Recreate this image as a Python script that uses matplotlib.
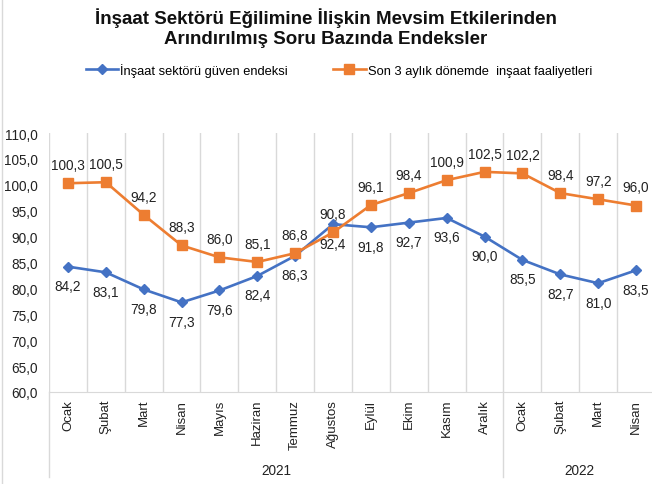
import matplotlib
matplotlib.use("Agg")
import matplotlib.pyplot as plt
from matplotlib.lines import Line2D

plt.rcParams['font.family'] = ['Liberation Sans', 'DejaVu Sans']

# data
months = ['Ocak', 'Şubat', 'Mart', 'Nisan', 'Mayıs', 'Haziran', 'Temmuz', 'Ağustos',
          'Eylül', 'Ekim', 'Kasım', 'Aralık', 'Ocak', 'Şubat', 'Mart', 'Nisan']
years = ['2021', '2022']
year_counts = [12, 4]
guven = [84.2, 83.1, 79.8, 77.3, 79.6, 82.4, 86.3, 92.4, 91.8, 92.7, 93.6, 90.0, 85.5, 82.7, 81.0, 83.5]
faaliyet = [100.3, 100.5, 94.2, 88.3, 86.0, 85.1, 86.8, 90.8, 96.1, 98.4, 100.9, 102.5, 102.2, 98.4, 97.2, 96.0]
series_names = ['İnşaat sektörü güven endeksi', 'Son 3 aylık dönemde  inşaat faaliyetleri']
yticks = [60, 65, 70, 75, 80, 85, 90, 95, 100, 105, 110]

blue = '#4472C4'
orange = '#ED7D31'
grid_c = '#D9D9D9'

W, H = 652, 485
fig = plt.figure(figsize=(W / 100, H / 100), dpi=100)
ax = fig.add_axes([49 / W, 1 - 393 / H, (655 - 49) / W, (393 - 134) / H])

x = list(range(len(months)))
ax.plot(x, guven, color=blue, lw=1.9, marker='D', ms=5.5, zorder=3)
ax.plot(x, faaliyet, color=orange, lw=1.9, marker='s', ms=7, zorder=3)

# data labels: orange above, blue below
for i in x:
    ax.annotate(f'{faaliyet[i]:.1f}'.replace('.', ','), (i, faaliyet[i]), xytext=(0, 13),
                textcoords='offset points', ha='center', va='center', fontsize=9.8, color='#222222')
    ax.annotate(f'{guven[i]:.1f}'.replace('.', ','), (i, guven[i]), xytext=(0, -14),
                textcoords='offset points', ha='center', va='center', fontsize=9.8, color='#222222')

ax.set_xlim(-0.5, len(months) - 0.5)
ax.set_ylim(60, 110)
ax.set_yticks(yticks)
ax.set_yticklabels([f'{v:.1f}'.replace('.', ',') for v in yticks], fontsize=9.8, color='#222222')
ax.set_xticks(x)
ax.set_xticklabels(months, rotation=90, fontsize=9.5, color='#222222')
ax.tick_params(axis='both', length=0)
ax.tick_params(axis='y', pad=8)
ax.tick_params(axis='x', pad=5)

for s in ['top', 'right', 'left']:
    ax.spines[s].set_visible(False)
ax.spines['bottom'].set_color(grid_c)

# vertical gridlines at category boundaries
for b in range(len(months) + 1):
    ax.axvline(b - 0.5, color=grid_c, lw=1, zorder=1)

# year group labels and separators
start = 0
for yr, n in zip(years, year_counts):
    ax.text(start - 0.5 + n / 2, -0.30, yr, transform=ax.get_xaxis_transform(),
            ha='center', va='center', fontsize=9.8, color='#222222')
    start += n
for b in [0, 12, 16]:
    ax.plot([b - 0.5, b - 0.5], [0, -0.33], color=grid_c, lw=1,
            transform=ax.get_xaxis_transform(), clip_on=False)

# title
fig.text(0.5, 1 - 18 / H, 'İnşaat Sektörü Eğilimine İlişkin Mevsim Etkilerinden',
         ha='center', va='center', fontsize=13.5, fontweight='bold', color='#111111')
fig.text(0.5, 1 - 40 / H, 'Arındırılmış Soru Bazında Endeksler',
         ha='center', va='center', fontsize=13.5, fontweight='bold', color='#111111')

# legend
handles = [Line2D([], [], color=blue, lw=1.9, marker='D', ms=5),
           Line2D([], [], color=orange, lw=1.9, marker='s', ms=6.5)]
fig.legend(handles, series_names, loc='center', bbox_to_anchor=(0.52, 1 - 71 / H), ncol=2,
           frameon=False, fontsize=9.3, handlelength=2.5, handletextpad=0.2, columnspacing=3.5)

# left border line of the chart frame
fig.add_artist(Line2D([2 / W, 2 / W], [0, 1], color=grid_c, lw=1, transform=fig.transFigure))

fig.savefig('out.png', dpi=100)
